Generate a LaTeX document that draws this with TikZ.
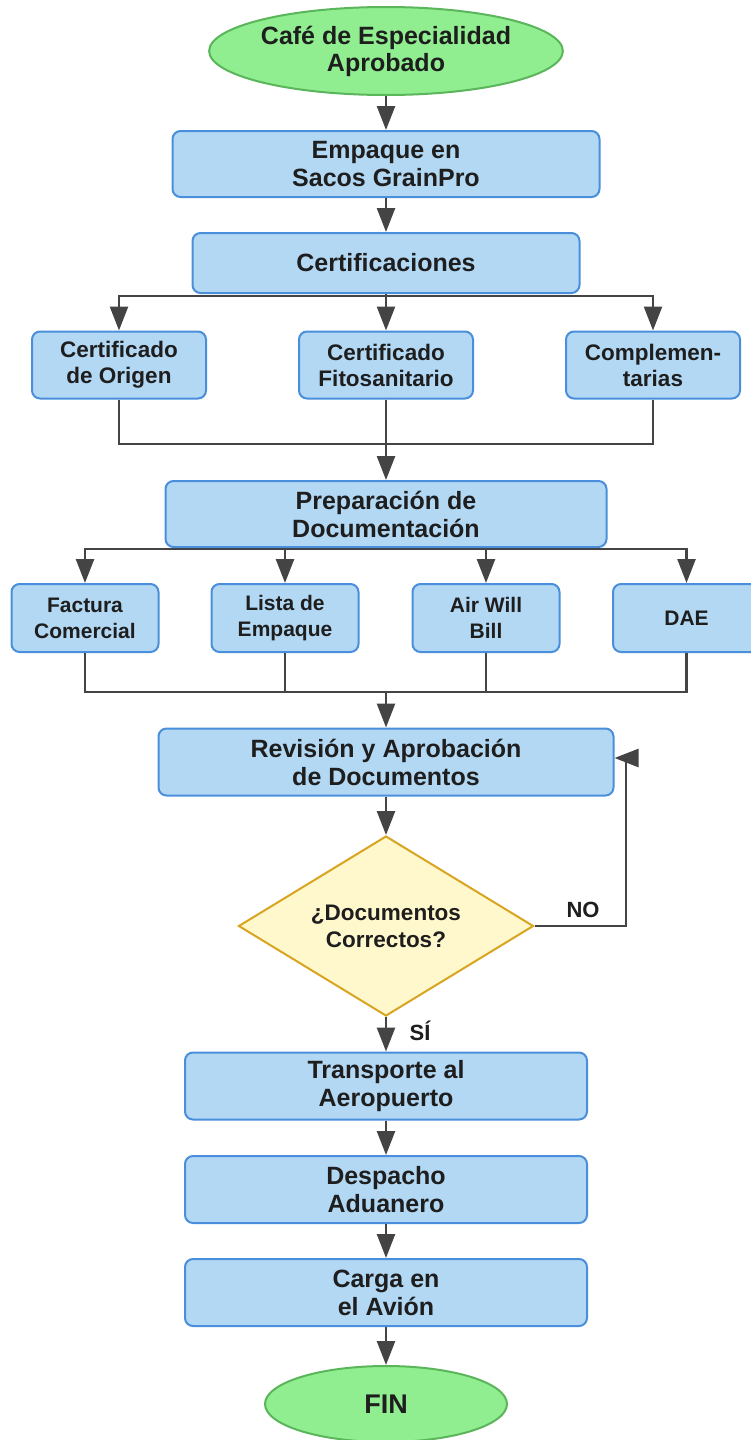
\documentclass[tikz,border=0pt]{standalone}
\usepackage{fontspec}
\setmainfont{Liberation Sans}
\usetikzlibrary{shapes.geometric,arrows.meta}
\definecolor{boxfill}{HTML}{B3D8F4}
\definecolor{boxline}{HTML}{4A8FDB}
\definecolor{termfill}{HTML}{90EE90}
\definecolor{termline}{HTML}{5BB55B}
\definecolor{decfill}{HTML}{FFF8CC}
\definecolor{decline}{HTML}{D9A521}
\definecolor{conn}{HTML}{444444}
\definecolor{txt}{HTML}{1E1E1E}
\tikzset{
  base/.style={align=center, inner sep=0pt, text=txt, line width=2pt},
  proc/.style={base, draw=boxline, fill=boxfill, rounded corners=8pt,
    font=\bfseries\fontsize{25}{28}\selectfont},
  cbox/.style={proc, minimum width=174pt, minimum height=67pt,
    font=\bfseries\fontsize{22.5}{26}\selectfont},
  dbox/.style={proc, minimum width=147pt, minimum height=68pt,
    font=\bfseries\fontsize{21}{26}\selectfont},
  term/.style={base, draw=termline, fill=termfill, shape=ellipse},
  dec/.style={base, draw=decline, fill=decfill, shape=diamond, aspect=1.64,
    font=\bfseries\fontsize{22.5}{27}\selectfont},
  ln/.style={draw=conn, line width=2.5pt},
  arr/.style={ln, -{Triangle[length=24pt,width=18pt]}},
  lbl/.style={text=txt, inner sep=0pt, font=\bfseries\fontsize{22}{26}\selectfont}
}
\begin{document}
\begin{tikzpicture}[x=1pt,y=-1pt]
\fill[white] (0,0) rectangle (751,1440);
\useasboundingbox (0,0) rectangle (751,1440);

\node[term, minimum width=348pt, minimum height=88pt,
  font=\bfseries\fontsize{25}{27}\selectfont] (start) at (386,51) {Café de Especialidad\\Aprobado};
\node[proc, minimum width=427pt, minimum height=66pt] (emp) at (386,164) {Empaque en\\Sacos GrainPro};
\node[proc, minimum width=387pt, minimum height=60pt] (cert) at (386,263) {Certificaciones};

\node[cbox] (co) at (119,365) {Certificado\\de Origen};
\node[cbox] (fito) at (386,365) {Certificado\\Fitosanitario};
\node[cbox] (comp) at (653,365) {Complemen-\\tarias};

\node[proc, minimum width=441pt, minimum height=66pt] (prep) at (386,514) {Preparación de\\Documentación};

\node[dbox] (fac) at (85,618) {Factura\\Comercial};
\node[dbox] (lista) at (285,618) {Lista de\\Empaque};
\node[dbox] (air) at (486,618) {Air Will\\Bill};
\node[dbox] (dae) at (686.5,618) {DAE};

\node[proc, minimum width=455pt, minimum height=67pt] (rev) at (386,762) {Revisión y Aprobación\\de Documentos};
\node[dec, minimum width=295pt, minimum height=180pt] (dc) at (386,926) {¿Documentos\\Correctos?};

\node[proc, minimum width=402pt, minimum height=67pt] (trans) at (386,1086) {Transporte al\\Aeropuerto};
\node[proc, minimum width=402pt, minimum height=67pt] (desp) at (386,1189.5) {Despacho\\Aduanero};
\node[proc, minimum width=402pt, minimum height=67pt] (carga) at (386,1292.5) {Carga en\\el Avión};
\node[term, minimum width=242pt, minimum height=76pt,
  font=\bfseries\fontsize{27}{30}\selectfont] (fin) at (386,1404) {FIN};

\node[lbl] (lno) at (583,910) {NO};
\node[lbl] (lsi) at (420,1031) {SÍ};

\coordinate (m1) at (386,444);
\coordinate (m2) at (386,692);
\coordinate (noturn) at (626,758);

% main flow
\draw[arr] (start) -- (emp);
\draw[arr] (emp) -- (cert);
\draw[arr] (cert.south) -- ++(0,2) -| (co.north);
\draw[arr] (cert.south) -- (fito.north);
\draw[arr] (cert.south) -- ++(0,2) -| (comp.north);
\draw[ln] (co.south) |- (m1);
\draw[ln] (comp.south) |- (m1);
\draw[arr] (fito.south) -- (prep.north);
\draw[arr] (prep.south) -- ++(0,1) -| (fac.north);
\draw[arr] (prep.south) -- ++(0,1) -| (lista.north);
\draw[arr] (prep.south) -- ++(0,1) -| (air.north);
\draw[arr] (prep.south) -- ++(0,1) -| (dae.north);
\draw[ln] (fac.south) |- (m2);
\draw[ln] (lista.south) |- (m2);
\draw[ln] (air.south) |- (m2);
\draw[ln] (dae.south) |- (m2);
\draw[arr] (m2) -- (rev.north);
\draw[arr] (rev) -- (dc);
\draw[arr] (dc.east) -| (noturn) -- (rev.east |- noturn);
\draw[arr] (dc.south) -- (trans.north);
\draw[arr] (trans) -- (desp);
\draw[arr] (desp) -- (carga);
\draw[arr] (carga) -- (fin);
\end{tikzpicture}
\end{document}
